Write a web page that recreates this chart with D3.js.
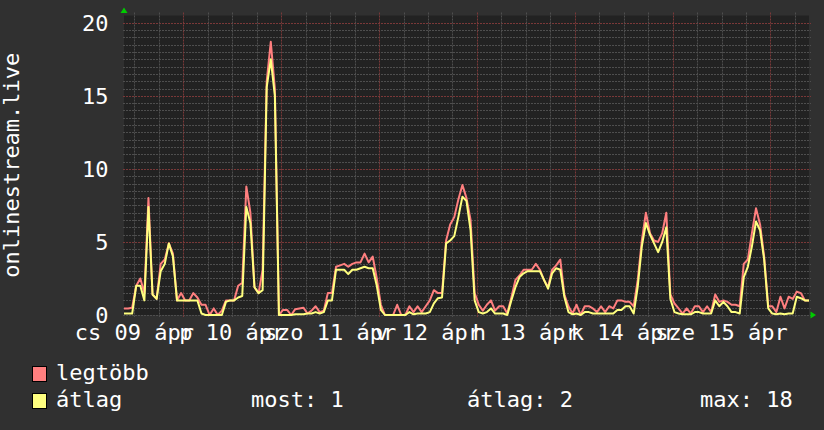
<!DOCTYPE html>
<html>
<head>
<meta charset="utf-8">
<script src="https://cdn.jsdelivr.net/npm/d3@7"></script>
<style>
  body { margin: 0; background: #303030; }
  text { font-family: "DejaVu Sans Mono", monospace; fill: #ffffff; }
</style>
</head>
<body>
<div id="chart"></div>
<script>
// Hourly samples, 9 Apr 09:27 -> 16 Apr 09:27 (2020)
var startTime = new Date(Date.UTC(2020, 3, 9, 9, 27));

// "legtöbb" (max per sample)
var peakValues = [0.45,0.45,0.5,2.0,2.5,1.5,8.0,1.4,1.1,3.5,
    3.8,4.9,4.2,1.0,1.5,1.0,1.0,1.5,1.2,0.7,
    0.7,0,0.45,0,0.3,1.0,1.0,1.0,2.0,2.2,
    8.8,7.0,1.9,1.5,3.1,16.0,18.7,15.5,0,0.35,
    0.35,0,0.4,0.45,0.5,0.1,0.3,0.6,0.2,0.3,
    1.5,1.5,3.3,3.4,3.5,3.3,3.5,3.6,3.6,4.2,
    3.6,4.0,2.5,0.7,0,0,0,0.7,0,0,
    0.6,0.2,0.6,0.2,0.6,1.0,1.7,1.5,1.5,5.1,
    6.2,6.7,7.9,8.9,8.0,6.5,1.5,0.7,0.3,0.7,
    1.0,0.3,0.6,0.6,0.1,1.2,2.4,2.7,3.1,3.1,
    3.1,3.5,3.1,2.4,1.9,3.1,3.4,3.8,1.4,0.6,
    0.1,0.7,0,0.6,0.6,0.45,0.2,0.6,0.2,0.6,
    0.45,1.0,1.0,0.9,0.9,0.6,2.4,5.1,7.0,5.6,
    5.1,5.0,5.6,7.0,1.4,0.8,0.45,0.1,0.45,0.1,
    0.6,0.6,0.2,0.6,0.2,1.4,0.9,1.0,0.9,0.7,
    0.7,0.6,3.5,3.8,5.6,7.3,6.2,4.0,0.6,0.6,
    0.2,1.25,0.45,1.25,1.1,1.6,1.5,1.0,1.0];

// "átlag" (average per sample)
var avgValues = [0.1,0.1,0.1,2.0,2.0,1.0,7.4,1.4,1.1,3.0,
    3.5,4.9,4.0,1.0,1.0,1.0,1.0,1.0,1.0,0.1,
    0,0,0,0,0,0.9,1.0,1.0,1.2,1.3,
    7.4,6.3,1.9,1.5,1.7,15.6,17.5,15.0,0,0,
    0,0,0.05,0.05,0.05,0.1,0.1,0.2,0.1,0.2,
    1.0,1.0,3.1,3.1,3.1,2.8,3.1,3.1,3.2,3.3,
    3.2,3.2,2.0,0.35,0,0,0,0,0,0,
    0.2,0.05,0.1,0.1,0.1,0.2,0.8,1.15,1.2,4.9,
    5.1,5.4,6.7,8.1,7.8,5.8,1.0,0.2,0.1,0.2,
    0.45,0.1,0.1,0.1,0,1.0,1.9,2.6,2.85,3.0,
    3.0,3.0,3.0,2.4,1.8,2.85,3.2,3.1,1.25,0.2,
    0.05,0.1,0,0.2,0.2,0.1,0.1,0.1,0.1,0.1,
    0.1,0.35,0.35,0.6,0.6,0.1,1.95,4.7,6.3,5.5,
    4.9,4.3,5.0,6.0,1.1,0.2,0.1,0.05,0.05,0.05,
    0.2,0.2,0.1,0.1,0.1,1.0,0.6,0.9,0.6,0.2,
    0.2,0.1,2.6,3.3,4.7,6.4,5.8,3.8,0.45,0.1,
    0.05,0.1,0.05,0.1,0.1,1.25,1.15,1.0,1.0];

var dayLabels = ["cs 09 ápr", "p 10 ápr", "szo 11 ápr", "v 12 ápr", "h 13 ápr", "k 14 ápr", "sze 15 ápr"];
var yTicks = [0, 5, 10, 15, 20];
var seriesNames = ["legtöbb", "átlag"];
var seriesColors = ["#ff7f7f", "#ffff7f"];
var statLabels = ["most: 1", "átlag: 2", "max: 18"];

var width = 824,
    height = 430,
    plotLeft = 124,
    plotRight = 809,
    plotTop = 15.5,
    plotBottom = 315;

var svg = d3.select("#chart")
    .append("svg")
    .attr("width", width)
    .attr("height", height);

svg.append("rect")
    .attr("width", width)
    .attr("height", height)
    .attr("fill", "#303030");

var x = d3.scaleUtc()
    .domain([startTime, d3.utcDay.offset(startTime, 7)])
    .range([plotLeft, plotRight]);

var y = d3.scaleLinear()
    .domain([0, 20.5])
    .range([plotBottom, plotTop]);

// plot background
svg.append("rect")
    .attr("x", plotLeft)
    .attr("y", plotTop)
    .attr("width", plotRight - plotLeft)
    .attr("height", plotBottom - plotTop)
    .attr("fill", "#222222");

// horizontal grid, every 0.5 with red lines at every 5
var hLines = d3.range(0, 41).map(function(i) { return i * 0.5; });
svg.append("g")
    .selectAll("line")
    .data(hLines)
    .join("line")
    .attr("x1", plotLeft - 1)
    .attr("x2", plotRight + 2)
    .attr("y1", function(d) { return Math.round(y(d)) + 0.5; })
    .attr("y2", function(d) { return Math.round(y(d)) + 0.5; })
    .attr("stroke", function(d) { return d % 5 == 0 && d > 0 ? "#7a3838" : "#4e4e4e"; })
    .attr("stroke-dasharray", "2,1");

// vertical grid, every 6 hours with red lines at midnight
var vLines = d3.utcHour.every(6).range(startTime, d3.utcDay.offset(startTime, 7));
svg.append("g")
    .selectAll("line")
    .data(vLines)
    .join("line")
    .attr("x1", function(d) { return Math.round(x(d)) + 0.5; })
    .attr("x2", function(d) { return Math.round(x(d)) + 0.5; })
    .attr("y1", plotTop - 3)
    .attr("y2", plotBottom + 2)
    .attr("stroke", function(d) { return d.getUTCHours() == 0 ? "#7a3838" : "#4e4e4e"; })
    .attr("stroke-dasharray", "2,1");

// series lines
var makeLine = d3.line()
    .x(function(d, i) { return x(d3.utcHour.offset(startTime, i)); })
    .y(function(d) { return y(d); });

[peakValues, avgValues].forEach(function(values, k) {
    svg.append("path")
        .attr("d", makeLine(values))
        .attr("fill", "none")
        .attr("stroke", seriesColors[k])
        .attr("stroke-width", 2)
        .attr("stroke-linejoin", "round");
});

// axis arrows
svg.append("path")
    .attr("d", "M" + (plotLeft - 3.5) + "," + (plotTop - 2.5) + "L" + (plotLeft + 3.5) + "," + (plotTop - 2.5) + "L" + plotLeft + "," + (plotTop - 8) + "Z")
    .attr("fill", "#00cc00");
svg.append("path")
    .attr("d", "M" + (plotRight + 1.5) + "," + (plotBottom - 3.5) + "L" + (plotRight + 1.5) + "," + (plotBottom + 3.5) + "L" + (plotRight + 7) + "," + plotBottom + "Z")
    .attr("fill", "#00cc00");

// y tick labels
svg.append("g")
    .selectAll("text")
    .data(yTicks)
    .join("text")
    .attr("x", 108.5)
    .attr("y", function(d) { return y(d) + 8; })
    .attr("text-anchor", "end")
    .style("font-size", "22px")
    .text(function(d) { return d; });

// day labels centred on noon
svg.append("g")
    .selectAll("text")
    .data(dayLabels)
    .join("text")
    .attr("x", function(d, i) { return x(d3.utcHour.offset(d3.utcDay.offset(d3.utcDay.floor(startTime), i), 12)); })
    .attr("y", 340)
    .attr("text-anchor", "middle")
    .style("font-size", "22px")
    .text(function(d) { return d; });

// vertical title
svg.append("text")
    .attr("transform", "translate(19," + ((plotTop + plotBottom) / 2) + ") rotate(-90)")
    .attr("text-anchor", "middle")
    .style("font-size", "22px")
    .text("onlinestream.live");

// legend
seriesNames.forEach(function(name, i) {
    var rowY = 380 + i * 27;
    svg.append("rect")
        .attr("x", 32.5)
        .attr("y", rowY - 13.5)
        .attr("width", 14)
        .attr("height", 15)
        .attr("fill", seriesColors[i])
        .attr("stroke", "#000000")
        .attr("stroke-width", 1);
    svg.append("text")
        .attr("x", 56)
        .attr("y", rowY)
        .style("font-size", "22px")
        .text(name);
});

var statX = [251, 467, 700];
statLabels.forEach(function(s, i) {
    svg.append("text")
        .attr("x", statX[i])
        .attr("y", 407)
        .style("font-size", "22px")
        .text(s);
});
</script>
</body>
</html>
